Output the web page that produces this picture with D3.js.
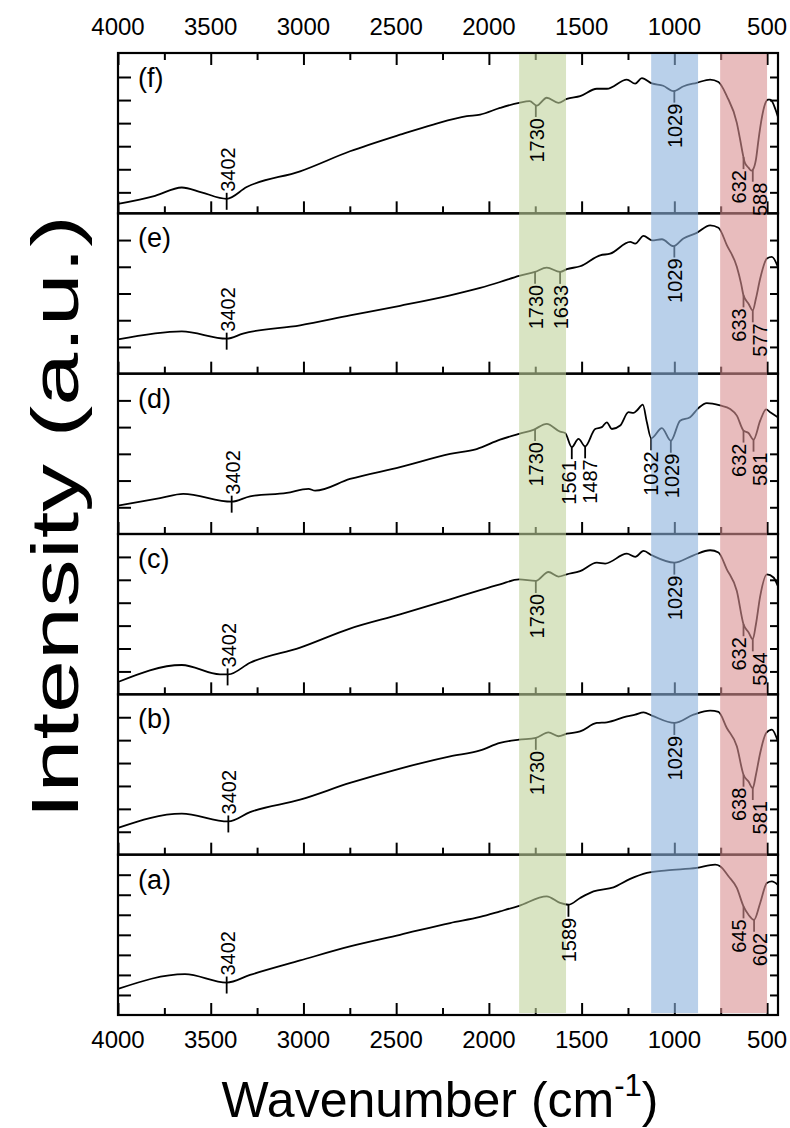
<!DOCTYPE html>
<html>
<head>
<meta charset="utf-8">
<title>FTIR spectra</title>
<script src="https://cdn.jsdelivr.net/npm/d3@7"></script>
<style>
  body { margin: 0; background: #fff; }
  text { font-family: Arial, "Liberation Sans", sans-serif; fill: #000; }
</style>
</head>
<body>
<div id="chart"></div>
<script>
// panel order top -> bottom
const panelNames = ["(f)", "(e)", "(d)", "(c)", "(b)", "(a)"];

// spectra: [wavenumber, intensity (a.u.)]
const specF = [[4000,0.50],[3800,0.85],[3656,1.21],[3550,1.00],[3414,0.72],[3306,1.23],[3018,1.91],[2749,2.78],[2479,3.50],[2300,3.94],[2119,4.30],[2047,4.37],[1940,4.66],[1837,4.88],[1780,4.95],[1742,4.76],[1688,5.10],[1625,4.88],[1580,5.05],[1508,5.17],[1418,5.49],[1364,5.49],[1256,5.89],[1211,5.71],[1175,5.95],[1121,5.72],[1060,5.62],[1005,5.39],[950,5.60],[879,5.75],[807,5.89],[762,5.78],[717,5.17],[663,4.01],[645,3.28],[630,2.63],[620,2.29],[600,2.07],[585,1.94],[577,1.98],[560,2.42],[546,3.29],[530,4.15],[510,4.85],[495,5.02],[483,5.02],[470,4.90],[455,4.60],[442,4.29]];
const specE = [[4000,1.28],[3656,1.58],[3414,1.31],[3326,1.50],[3018,1.81],[2749,2.18],[2479,2.54],[2209,2.93],[2047,3.21],[1940,3.43],[1837,3.66],[1751,3.81],[1688,3.97],[1616,3.81],[1580,3.91],[1508,4.02],[1400,4.43],[1346,4.49],[1238,4.93],[1211,4.87],[1166,5.16],[1121,4.99],[1067,5.03],[1005,4.77],[951,5.06],[879,5.27],[807,5.55],[762,5.46],[717,4.81],[663,4.00],[640,3.37],[627,2.93],[600,2.62],[577,2.37],[560,2.81],[537,3.56],[501,4.31],[474,4.37],[442,4.00]];
const specD = [[4000,1.06],[3773,1.34],[3648,1.50],[3387,1.21],[3288,1.41],[3090,1.54],[2973,1.69],[2937,1.62],[2749,2.06],[2479,2.50],[2209,3.00],[2066,3.18],[1940,3.53],[1837,3.75],[1760,3.90],[1688,4.12],[1616,3.83],[1589,3.78],[1553,3.25],[1517,3.56],[1481,3.28],[1427,3.93],[1391,4.00],[1364,4.18],[1337,3.93],[1292,4.06],[1247,4.56],[1220,4.53],[1202,4.62],[1170,4.84],[1148,4.18],[1125,3.58],[1067,3.96],[1019,3.49],[969,4.24],[915,4.37],[870,4.71],[825,4.90],[753,4.81],[699,4.68],[663,4.43],[627,3.87],[600,3.78],[573,3.53],[537,4.24],[505,4.66],[483,4.56],[442,4.37]];
const specC = [[4000,0.54],[3656,1.28],[3450,0.87],[3405,0.87],[3288,1.38],[3018,2.04],[2749,2.87],[2479,3.49],[2209,4.15],[2047,4.55],[1940,4.80],[1837,5.02],[1747,4.95],[1679,5.34],[1625,5.14],[1580,5.24],[1508,5.38],[1418,5.75],[1373,5.71],[1256,6.14],[1211,6.00],[1166,6.26],[1121,6.07],[1000,5.75],[897,6.07],[807,6.29],[762,6.19],[717,5.46],[663,4.51],[627,3.06],[600,2.71],[577,2.40],[560,3.06],[537,4.29],[501,5.24],[465,5.10],[442,4.73]];
const specB = [[4000,1.17],[3656,1.79],[3405,1.45],[3288,1.86],[3018,2.40],[2749,3.13],[2479,3.76],[2209,4.29],[2047,4.55],[1940,4.88],[1837,5.02],[1747,5.10],[1679,5.34],[1625,5.17],[1580,5.28],[1508,5.38],[1418,5.75],[1364,5.78],[1256,6.04],[1211,6.11],[1166,6.21],[1121,6.07],[1000,5.75],[897,6.11],[807,6.29],[762,6.23],[717,5.53],[663,4.73],[627,3.49],[600,3.19],[577,2.91],[560,3.49],[537,4.44],[505,5.31],[474,5.46],[442,4.95]];
const specA = [[4000,1.30],[3639,2.04],[3414,1.62],[3288,2.00],[3018,2.72],[2749,3.42],[2479,4.00],[2209,4.59],[2047,4.89],[1940,5.17],[1837,5.45],[1688,5.92],[1616,5.59],[1571,5.50],[1508,5.84],[1436,6.17],[1328,6.37],[1238,6.79],[1148,7.09],[1040,7.22],[879,7.34],[780,7.50],[753,7.42],[708,6.92],[663,6.34],[627,5.42],[600,5.00],[570,4.75],[537,5.59],[501,6.59],[474,6.67],[442,6.50]];
const spectra = [specF, specE, specD, specC, specB, specA];

// y range of each panel and its tick values
const yDomains = [[0.09, 7.04], [0, 6], [0, 6], [0, 7], [0, 7], [0, 8]];
const yTicks = [[1,2,3,4,5,6], [1,2,3,4,5], [1,2,3,4,5], [1,2,3,4,5,6], [1,2,3,4,5,6], [1,2,3,4,5,6,7]];

// peak markers: [position, label, side]
const peaksF = [[3414,"3402","up"],[1747,"1730","down"],[1000,"1029","down"],[627,"632","down"],[577,"588","down"]];
const peaksE = [[3414,"3402","up"],[1751,"1730","down"],[1616,"1633","down"],[1000,"1029","down"],[627,"633","down"],[577,"577","down"]];
const peaksD = [[3387,"3402","up"],[1751,"1730","down"],[1553,"1561","down"],[1481,"1487","down"],[1125,"1032","down"],[1019,"1029","down"],[627,"632","down"],[573,"581","down"]];
const peaksC = [[3409,"3402","up"],[1747,"1730","down"],[1000,"1029","down"],[627,"632","down"],[577,"584","down"]];
const peaksB = [[3405,"3402","up"],[1747,"1730","down"],[1000,"1029","down"],[627,"638","down"],[577,"581","down"]];
const peaksA = [[3414,"3402","up"],[1571,"1589","down"],[627,"645","down"],[570,"602","down"]];
const peaks = [peaksF, peaksE, peaksD, peaksC, peaksB, peaksA];

// highlighted regions (cm-1)
const bands = [[1837, 1584], [1125, 872], [753, 500]];
const bandColors = ["#c0d29b", "#8ab1dc", "#d98f91"];

const xTickMajor = [4000, 3500, 3000, 2500, 2000, 1500, 1000, 500];
const xTickMinor = [3750, 3250, 2750, 2250, 1750, 1250, 750];

const width = 790, height = 1128;
const margin = { top: 53, left: 118, right: 12, bottom: 113 };
const plotW = width - margin.left - margin.right;
const plotH = height - margin.top - margin.bottom;
const panelH = plotH / spectra.length;

const svg = d3.select("#chart").append("svg")
  .attr("width", width)
  .attr("height", height)
  .style("display", "block");

const x = d3.scaleLinear().domain([4000, 441]).range([margin.left, margin.left + plotW]);

const line = d3.line().curve(d3.curveMonotoneX);
const panels = svg.append("g");
const bandLayer = svg.append("g");
const labelsLayer = svg.append("g");

spectra.forEach(function(spec, i) {
  const top = margin.top + i * panelH;
  const bottom = top + panelH;
  const y = d3.scaleLinear().domain(yDomains[i]).range([bottom, top]);
  const g = panels.append("g");

  // curve
  g.append("path")
    .attr("d", line(spec.map(d => [x(d[0]), y(d[1])])))
    .attr("fill", "none")
    .attr("stroke", "#000")
    .attr("stroke-width", 1.8)
    .attr("stroke-linejoin", "round");

  // frame
  g.append("rect")
    .attr("x", margin.left).attr("y", top)
    .attr("width", plotW).attr("height", panelH)
    .attr("fill", "none").attr("stroke", "#000").attr("stroke-width", 2.2);

  // y ticks (left, long / right, short), pointing inward
  g.append("g").attr("transform", "translate(" + margin.left + ",0)")
    .call(d3.axisRight(y).tickValues(yTicks[i]).tickSize(13).tickFormat(""))
    .call(a => a.select(".domain").remove())
    .selectAll("line").attr("stroke-width", 2);
  g.append("g").attr("transform", "translate(" + (margin.left + plotW) + ",0)")
    .call(d3.axisLeft(y).tickValues(yTicks[i]).tickSize(8).tickFormat(""))
    .call(a => a.select(".domain").remove())
    .selectAll("line").attr("stroke-width", 2);

  // x ticks on the bottom edge, pointing up
  g.append("g").attr("transform", "translate(0," + bottom + ")")
    .call(d3.axisTop(x).tickValues(xTickMajor).tickSize(12).tickFormat(""))
    .call(a => a.select(".domain").remove())
    .selectAll("line").attr("stroke-width", 2);
  g.append("g").attr("transform", "translate(0," + bottom + ")")
    .call(d3.axisTop(x).tickValues(xTickMinor).tickSize(7).tickFormat(""))
    .call(a => a.select(".domain").remove())
    .selectAll("line").attr("stroke-width", 2);

  if (i === 0) {
    g.append("g").attr("transform", "translate(0," + top + ")")
      .call(d3.axisBottom(x).tickValues(xTickMajor).tickSize(12).tickFormat(""))
      .call(a => a.select(".domain").remove())
      .selectAll("line").attr("stroke-width", 2);
    g.append("g").attr("transform", "translate(0," + top + ")")
      .call(d3.axisBottom(x).tickValues(xTickMinor).tickSize(7).tickFormat(""))
      .call(a => a.select(".domain").remove())
      .selectAll("line").attr("stroke-width", 2);
  }

  // panel name
  labelsLayer.append("text")
    .attr("x", margin.left + 20)
    .attr("y", top + 34)
    .attr("font-size", 27)
    .text(panelNames[i]);

  // peak markers
  const xs = spec.map(d => d[0]).slice().reverse();
  const ys = spec.map(d => d[1]).slice().reverse();
  const valueAt = function(wn) {
    const j = Math.max(1, Math.min(xs.length - 1, d3.bisectLeft(xs, wn)));
    const t = (wn - xs[j - 1]) / (xs[j] - xs[j - 1]);
    return ys[j - 1] + t * (ys[j] - ys[j - 1]);
  };

  const marks = peaks[i].map(p => ({ px: x(p[0]), cy: y(valueAt(p[0])), text: p[1], side: p[2] }));
  const below = marks.filter(m => m.side === "down").sort((a, b) => a.px - b.px);
  below.forEach(m => m.lx = m.px);
  for (let k = 1; k < below.length; k++) {
    if (below[k].lx - below[k - 1].lx < 20) {
      const mid = (below[k].px + below[k - 1].px) / 2;
      below[k - 1].lx = mid - 10.5;
      below[k].lx = mid + 10.5;
    }
  }

  marks.forEach(function(m) {
    if (m.side === "up") {
      g.append("line")
        .attr("x1", m.px).attr("x2", m.px)
        .attr("y1", m.cy - 6).attr("y2", m.cy + 11)
        .attr("stroke", "#000").attr("stroke-width", 1.8);
      labelsLayer.append("text")
        .attr("transform", "translate(" + (m.px + 1) + "," + (m.cy - 7) + ") rotate(-90)")
        .attr("dominant-baseline", "central")
        .attr("text-anchor", "start")
        .attr("font-size", 20)
        .text(m.text);
    } else {
      g.append("line")
        .attr("x1", m.px).attr("x2", m.px)
        .attr("y1", m.cy).attr("y2", m.cy + 12)
        .attr("stroke", "#000").attr("stroke-width", 1.8);
      labelsLayer.append("text")
        .attr("transform", "translate(" + (m.lx + 1) + "," + (m.cy + 13) + ") rotate(-90)")
        .attr("dominant-baseline", "central")
        .attr("text-anchor", "end")
        .attr("font-size", 20)
        .text(m.text);
    }
  });
});

// coloured bands over the curves
bandLayer.selectAll("rect")
  .data(bands)
  .join("rect")
  .attr("x", d => x(d[0]))
  .attr("width", d => x(d[1]) - x(d[0]))
  .attr("y", margin.top + 1)
  .attr("height", plotH - 3)
  .attr("fill", (d, k) => bandColors[k])
  .attr("fill-opacity", 0.6);

// x tick labels, top and bottom
const xLabels = svg.append("g");
xLabels.selectAll("text.top")
  .data(xTickMajor)
  .join("text")
  .attr("class", "top")
  .attr("x", d => x(d))
  .attr("y", 35)
  .attr("text-anchor", "middle")
  .attr("font-size", 24)
  .text(d => d);
xLabels.selectAll("text.bottom")
  .data(xTickMajor)
  .join("text")
  .attr("class", "bottom")
  .attr("x", d => x(d))
  .attr("y", margin.top + plotH + 33)
  .attr("text-anchor", "middle")
  .attr("font-size", 24)
  .text(d => d);

// axis titles
const xt = svg.append("text")
  .attr("x", 440)
  .attr("y", 1117)
  .attr("text-anchor", "middle")
  .attr("font-size", 50);
xt.append("tspan").text("Wavenumber (cm");
xt.append("tspan").attr("font-size", 31).attr("dy", -21).text("-1");
xt.append("tspan").attr("dy", 21).text(")");

svg.append("text")
  .attr("transform", "translate(78,517) rotate(-90)")
  .attr("text-anchor", "middle")
  .attr("font-size", 66)
  .attr("textLength", 604)
  .attr("lengthAdjust", "spacingAndGlyphs")
  .text("Intensity (a.u.)");
</script>
</body>
</html>
